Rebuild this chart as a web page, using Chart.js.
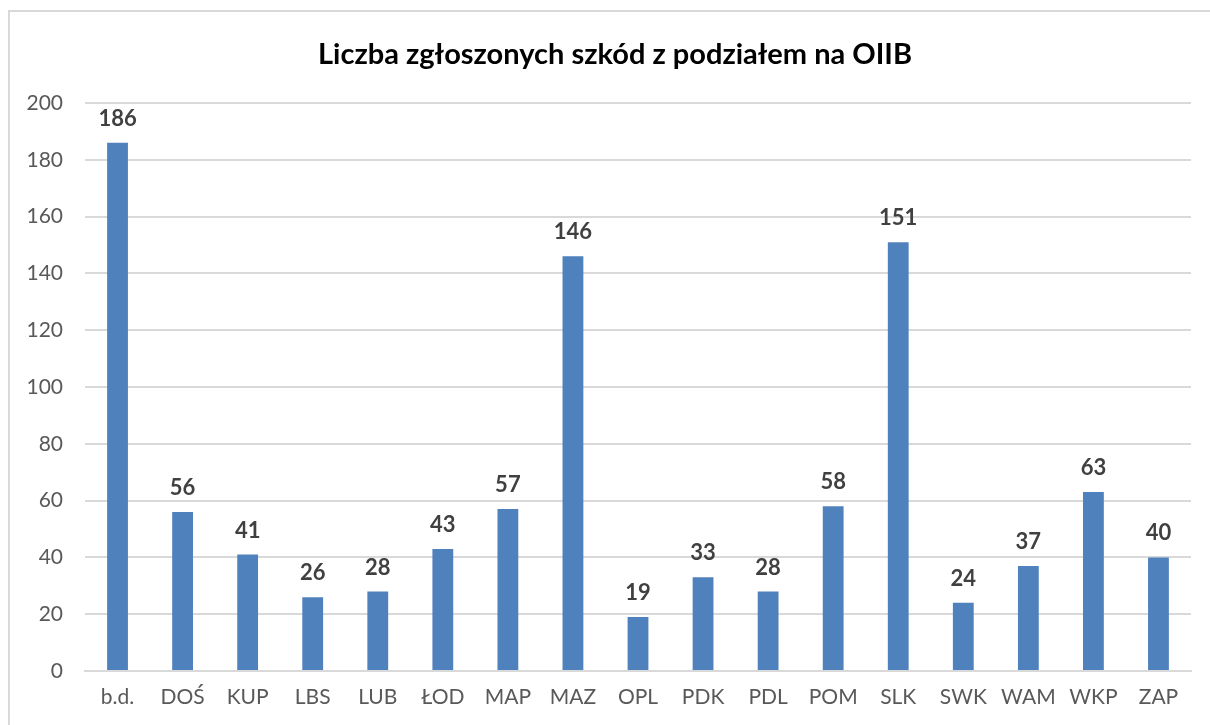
<!DOCTYPE html>
<html>
<head>
<meta charset="utf-8">
<script src="https://cdn.jsdelivr.net/npm/chart.js@4"></script>
<style>
  html, body { margin: 0; padding: 0; background: #fff; }
  .wrap { position: relative; width: 1210px; height: 725px; }
  .frame { position: absolute; left: 8px; top: 10px; right: -5px; bottom: -5px;
           border: 2px solid #d9d9d9; pointer-events: none; }
  canvas { position: absolute; left: 0; top: 0; }
</style>
</head>
<body>
<div class="wrap">
  <div class="frame"></div>
  <canvas id="myChart" width="1210" height="725"></canvas>
</div>
<script>
const categories = ["b.d.", "DOŚ", "KUP", "LBS", "LUB", "ŁOD", "MAP", "MAZ", "OPL",
  "PDK", "PDL", "POM", "SLK", "SWK", "WAM", "WKP", "ZAP"];
const values = [186, 56, 41, 26, 28, 43, 57, 146, 19, 33, 28, 58, 151, 24, 37, 63, 40];
const yTicks = [0, 20, 40, 60, 80, 100, 120, 140, 160, 180, 200];
const chartTitle = "Liczba zgłoszonych szkód z podziałem na OIIB";

const FONT = "Lato, 'Open Sans', sans-serif";

// wartości nad słupkami
const valueLabels = {
  id: "valueLabels",
  afterDatasetsDraw(chart) {
    const { ctx } = chart;
    const meta = chart.getDatasetMeta(0);
    ctx.save();
    ctx.font = `bold 22px ${FONT}`;
    ctx.fillStyle = "#404040";
    ctx.textAlign = "center";
    ctx.textBaseline = "middle";
    meta.data.forEach((bar, i) => {
      ctx.fillText(String(values[i]), bar.x, bar.y - 24);
    });
    ctx.restore();
  }
};

// tytuł rysowany ręcznie – w oryginale nie jest wyśrodkowany nad obszarem wykresu
const centeredTitle = {
  id: "centeredTitle",
  afterDraw(chart) {
    const { ctx } = chart;
    ctx.save();
    ctx.font = `bold 29px ${FONT}`;
    ctx.fillStyle = "#000";
    ctx.textAlign = "center";
    ctx.textBaseline = "middle";
    ctx.fillText(chartTitle, 615, 55);
    ctx.restore();
  }
};

new Chart(document.getElementById("myChart"), {
  type: "bar",
  data: {
    labels: categories,
    datasets: [{
      data: values,
      backgroundColor: "#4f81bd",
      borderWidth: 0,
      barPercentage: 0.32,
      categoryPercentage: 1
    }]
  },
  options: {
    responsive: false,
    animation: false,
    layout: { padding: { left: 0, right: 19, top: 103, bottom: 0 } },
    plugins: {
      legend: { display: false },
      tooltip: { enabled: false },
      title: { display: false }
    },
    scales: {
      y: {
        min: 0,
        max: 200,
        afterBuildTicks: (scale) => { scale.ticks = yTicks.map(v => ({ value: v })); },
        afterFit: (scale) => { scale.width = 85; },
        border: { display: false },
        grid: { color: "#d9d9d9", lineWidth: 2, drawTicks: false },
        ticks: {
          color: "#595959",
          padding: 22,
          font: { family: FONT, size: 21 }
        }
      },
      x: {
        afterFit: (scale) => { scale.height = 54; },
        border: { color: "#d9d9d9", width: 2 },
        grid: { display: false, drawTicks: false },
        ticks: {
          color: "#595959",
          padding: 14,
          font: { family: FONT, size: 21 }
        }
      }
    }
  },
  plugins: [valueLabels, centeredTitle]
});
</script>
</body>
</html>
